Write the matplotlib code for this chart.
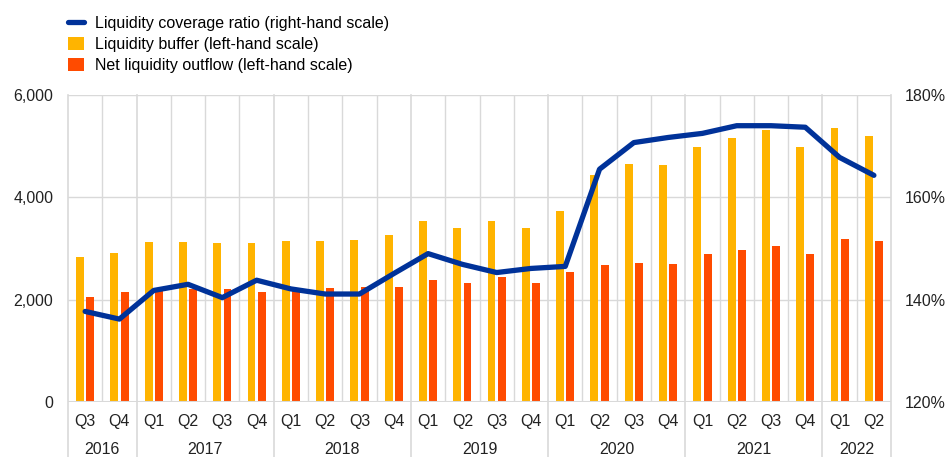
import numpy as np
import matplotlib.pyplot as plt
from matplotlib import transforms

plt.rcParams['font.family'] = ['Liberation Sans', 'DejaVu Sans']

# data
quarters = ['Q3', 'Q4',
            'Q1', 'Q2', 'Q3', 'Q4',
            'Q1', 'Q2', 'Q3', 'Q4',
            'Q1', 'Q2', 'Q3', 'Q4',
            'Q1', 'Q2', 'Q3', 'Q4',
            'Q1', 'Q2', 'Q3', 'Q4',
            'Q1', 'Q2']
years = ['2016', '2017', '2018', '2019', '2020', '2021', '2022']
year_counts = [2, 4, 4, 4, 4, 4, 2]

buffer = [2825, 2910, 3125, 3125, 3105, 3100, 3145, 3145, 3165, 3260, 3535, 3405,
          3535, 3400, 3725, 4435, 4645, 4630, 4990, 5165, 5310, 4990, 5355, 5200]
outflow = [2055, 2140, 2185, 2200, 2215, 2150, 2165, 2235, 2245, 2245, 2380, 2330,
           2440, 2330, 2535, 2685, 2720, 2695, 2895, 2965, 3050, 2885, 3195, 3155]
lcr = [137.7, 136.2, 141.8, 143.0, 140.4, 143.8, 142.1, 141.1, 141.1, 145.1, 149.0, 146.9,
       145.3, 146.1, 146.5, 165.5, 170.7, 171.7, 172.5, 174.0, 174.0, 173.7, 167.8, 164.3]

yellow = '#ffb400'
red = '#ff4b00'
blue = '#003299'
grid = '#d9d9d9'
fs = 11.5

x = np.arange(len(quarters))

fig = plt.figure(figsize=(9.47, 4.57), dpi=100)
ax = fig.add_axes([0.0718, 0.1204, 0.8691, 0.6717])
ax2 = ax.twinx()

b1 = ax.bar(x - 0.15, buffer, 0.23, color=yellow, zorder=2,
            label='Liquidity buffer (left-hand scale)')
b2 = ax.bar(x + 0.15, outflow, 0.23, color=red, zorder=2,
            label='Net liquidity outflow (left-hand scale)')
ln, = ax2.plot(x, lcr, color=blue, lw=3.8, solid_capstyle='round', solid_joinstyle='round',
               label='Liquidity coverage ratio (right-hand scale)')

ax.set_xlim(-0.5, len(quarters) - 0.5)
ax.set_ylim(0, 6000)
ax.set_yticks([0, 2000, 4000, 6000])
ax.set_yticklabels(['0', '2,000', '4,000', '6,000'])
ax2.set_ylim(120, 180)
ax2.set_yticks([120, 140, 160, 180])
ax2.set_yticklabels(['120%', '140%', '160%', '180%'])

for a in (ax, ax2):
    for s in a.spines.values():
        s.set_visible(False)
    a.tick_params(length=0, labelsize=fs, colors='#222222')
ax.tick_params(axis='y', pad=10.5)
ax2.tick_params(axis='y', pad=10)

ax.set_xticks(x)
ax.set_xticklabels(quarters)
ax.tick_params(axis='x', pad=9)

# horizontal grid
for v in [2000, 4000, 6000]:
    ax.axhline(v, color=grid, lw=1, zorder=0)
ax.axhline(0, color=grid, lw=1.5, zorder=3)

# vertical grid between quarters
trans = transforms.blended_transform_factory(ax.transData, ax.transAxes)
bounds = np.cumsum([0] + year_counts) - 0.5
for b in np.arange(-0.5, len(quarters), 1.0):
    if b in bounds:
        ax.plot([b, b], [-0.19, 1], transform=trans, color=grid, lw=1.2,
                clip_on=False, zorder=0)
    else:
        ax.plot([b, b], [0, 1], transform=trans, color=grid, lw=1, zorder=0)

# year labels
for i, yr in enumerate(years):
    c = (bounds[i] + bounds[i + 1]) / 2
    ax.text(c, -0.155, yr, transform=trans, ha='center', va='center',
            fontsize=fs, color='#222222')

fig.legend(handles=[ln, b1, b2], loc='upper left', bbox_to_anchor=(0.0546, 1.0),
           frameon=False, fontsize=fs, handlelength=1.05, handleheight=0.85,
           handletextpad=0.65, labelspacing=0.38, borderaxespad=0.6)

fig.savefig('out.png', dpi=100)
